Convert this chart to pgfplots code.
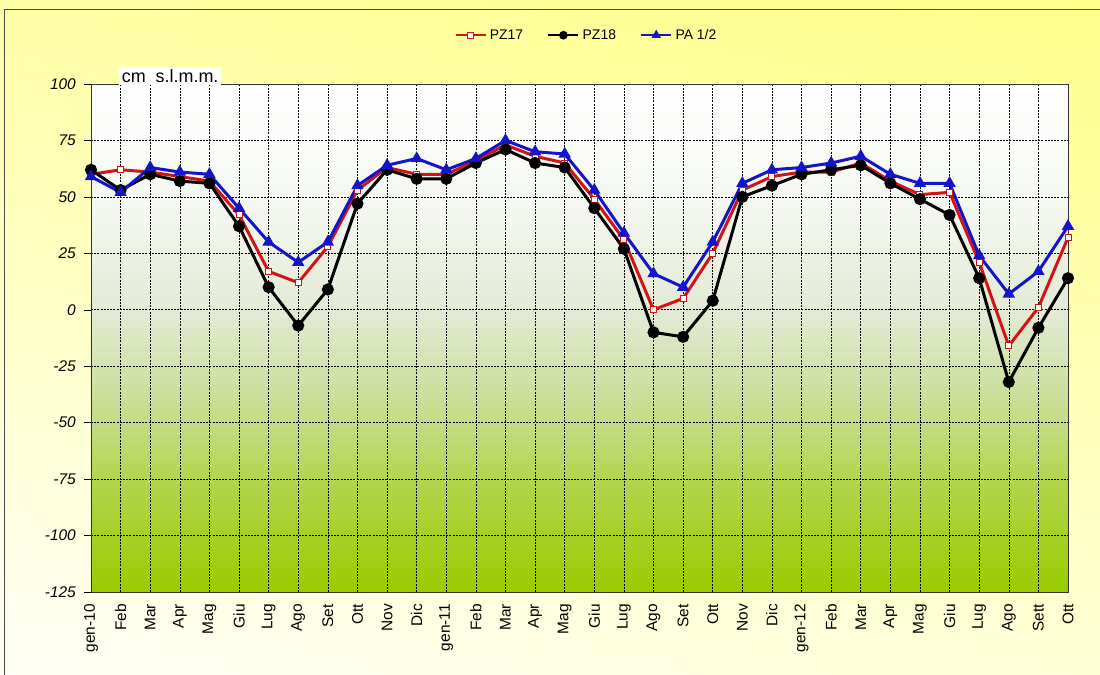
\documentclass[border=0pt]{standalone}
\usepackage{fontspec}
\setmainfont{Liberation Sans}
\usepackage{pgfplots}
\usepackage{pgfplotstable}
\usetikzlibrary{shadings}
\pgfplotsset{compat=1.18}
\definecolor{redl}{RGB}{210,20,20}
\definecolor{bluel}{RGB}{20,20,200}
\definecolor{gbot}{RGB}{153,204,0}
\definecolor{g20}{RGB}{175,212,70}
\definecolor{g40}{RGB}{205,224,160}
\definecolor{g55}{RGB}{226,234,212}
\definecolor{g75}{RGB}{244,247,240}
\definecolor{bgul}{RGB}{255,255,165}
\definecolor{bgur}{RGB}{255,255,140}
\definecolor{bgll}{RGB}{255,255,245}
\definecolor{bglr}{RGB}{255,255,215}
\pgfdeclareverticalshading{plotbg}{100bp}{color(0bp)=(gbot); color(25bp)=(gbot); color(35bp)=(g20); color(45bp)=(g40); color(52.5bp)=(g55); color(62.5bp)=(g75); color(75bp)=(white); color(100bp)=(white)}
\pgfplotstableread{
x PZ17 PZ18 PA
0 60 62 59
1 62 53 52
2 61 60 63
3 59 57 61
4 57 56 60
5 42 37 45
6 17 10 30
7 12 -7 21
8 28 9 30
9 53 47 55
10 63 62 64
11 60 58 67
12 60 58 62
13 66 65 67
14 73 71 75
15 68 65 70
16 65 63 69
17 49 45 53
18 31 27 34
19 0 -10 16
20 5 -12 10
21 25 4 30
22 53 50 56
23 59 55 62
24 61 60 63
25 61 62 65
26 65 64 68
27 57 56 60
28 51 49 56
29 52 42 56
30 21 14 24
31 -16 -32 7
32 1 -8 17
33 32 14 37
}\datatable
\begin{document}
\begin{tikzpicture}[x=1bp,y=1bp]
\useasboundingbox (-91,-83) rectangle (1009,592);
\shade[upper left=bgul,upper right=bgur,lower left=bgll,lower right=bglr]
  (-91,-83) rectangle (1009,592);
\draw[black!70, line width=1bp] (-86,-90) -- (-86,582) -- (1015,582);
\begin{axis}[
  scale only axis, width=977bp, height=508bp,
  xmin=0, xmax=33, ymin=-125, ymax=100,
  xtick={0,...,33},
  xticklabels={gen-10,Feb,Mar,Apr,Mag,Giu,Lug,Ago,Set,Ott,Nov,Dic,gen-11,Feb,Mar,Apr,Mag,Giu,Lug,Ago,Set,Ott,Nov,Dic,gen-12,Feb,Mar,Apr,Mag,Giu,Lug,Ago,Sett,Ott},
  xticklabel style={rotate=90, anchor=east, font=\fontsize{15.5}{17}\selectfont, inner sep=1bp, xshift=-4bp},
  ytick={-125,-100,-75,-50,-25,0,25,50,75,100},
  yticklabels={-125,-100,-75,-50,-25,0,25,50,75,100},
  yticklabel style={font=\fontsize{15.5}{17}\selectfont\itshape, inner sep=1bp, xshift=-7bp},
  ytick pos=left, xtick pos=bottom,
  tick align=outside, major tick length=7bp,
  x tick style={draw=none},
  tick style={black, thin},
  axis line style={black!80, thin},
  grid=major,
  major grid style={black, line width=0.6bp, dash pattern=on 2bp off 1.2bp},
  axis background/.style={shading=plotbg},
  legend style={at={(0.507,1.096)}, anchor=center, draw=none, fill=none,
    font=\fontsize{14}{16}\selectfont, legend columns=3,
    /tikz/every even column/.append style={column sep=22bp},
    /tikz/every odd column/.append style={column sep=1bp}},
  legend image code/.code={\draw[mark repeat=2,mark phase=2] plot coordinates {(0bp,0bp)(15bp,0bp)(30bp,0bp)};},
  legend image post style={mark size=3bp, line width=2.5bp},
  legend cell align=left,
  clip=false,
]
\addplot[redl, line width=3bp, mark=square*, mark size=3bp, mark options={fill=white, draw=redl, line width=1bp}] table[x=x,y=PZ17]{\datatable};
\addlegendentry{PZ17}
\addplot[black, line width=3bp, mark=*, mark size=4.5bp] table[x=x,y=PZ18]{\datatable};
\addlegendentry{PZ18}
\addplot[bluel, line width=3bp, mark=triangle*, mark size=4.2bp] table[x=x,y=PA]{\datatable};
\addlegendentry{PA 1/2}
\node[fill=white, inner sep=2.5bp, anchor=center, font=\fontsize{18}{20}\selectfont] at (rel axis cs:0.081,1.016) {cm\hspace{10bp}s.l.m.m.};
\end{axis}
\end{tikzpicture}
\end{document}
